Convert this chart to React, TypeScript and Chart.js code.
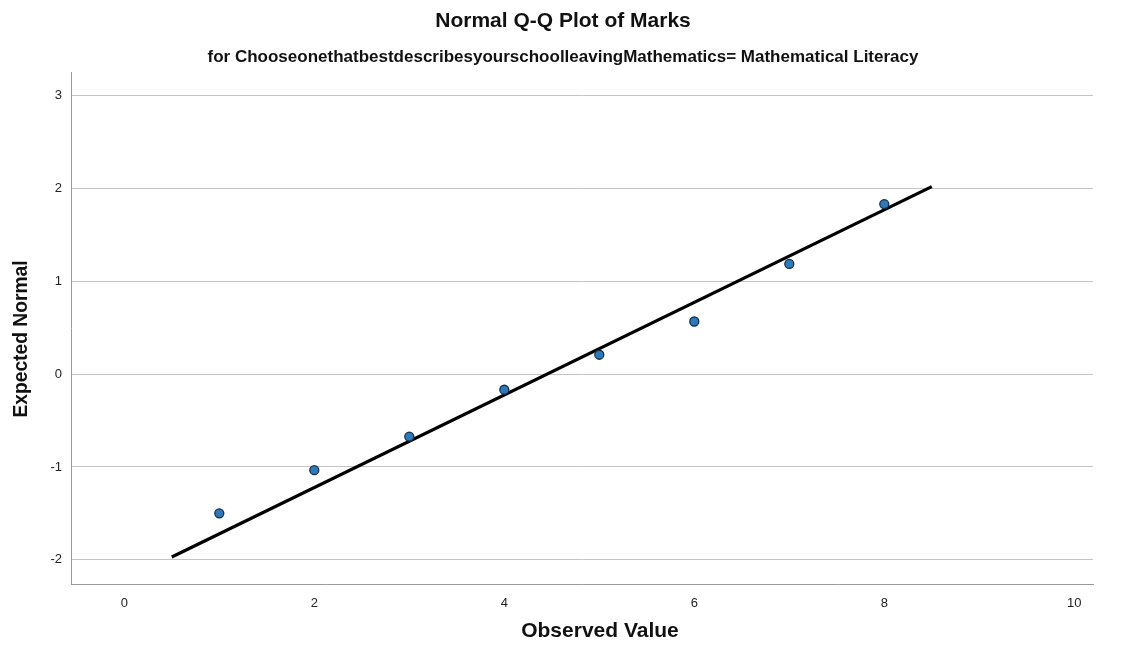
import React, { useEffect, useRef } from "react";
import { Chart, registerables } from "chart.js";

Chart.register(...registerables);

const observedValues = [1, 2, 3, 4, 5, 6, 7, 8];
const expectedNormal = [-1.5, -1.035, -0.673, -0.168, 0.209, 0.567, 1.187, 1.832];
const fitLineX = [0.5, 8.5];
const fitLineY = [-1.97, 2.02];
const xTickValues = [0, 2, 4, 6, 8, 10];
const yTickValues = [-2, -1, 0, 1, 2, 3];

const titleText = "Normal Q-Q Plot of Marks";
const subtitleText = "for ChooseonethatbestdescribesyourschoolleavingMathematics= Mathematical Literacy";
const xAxisTitle = "Observed Value";
const yAxisTitle = "Expected Normal";

const FONT = "'Liberation Sans', Arial, sans-serif";

const textPlugin = {
  id: "spssText",
  afterDraw(chart: any) {
    const ctx = chart.ctx as CanvasRenderingContext2D;
    ctx.save();
    ctx.fillStyle = "#111";
    ctx.textAlign = "center";
    ctx.textBaseline = "middle";
    ctx.font = `bold 21px ${FONT}`;
    ctx.fillText(titleText, 563, 21, 260);
    ctx.font = `bold 17px ${FONT}`;
    ctx.fillText(subtitleText, 563, 57, 747);
    ctx.font = `bold 21px ${FONT}`;
    ctx.fillText(xAxisTitle, 600, 631, 164);
    ctx.font = `bold 19.5px ${FONT}`;
    ctx.translate(22, 339);
    ctx.rotate(-Math.PI / 2);
    ctx.fillText(yAxisTitle, 0, 0, 157);
    ctx.restore();
  },
};

export default function App() {
  const ref = useRef<HTMLCanvasElement | null>(null);

  useEffect(() => {
    if (!ref.current) return;
    const chart = new Chart(ref.current, {
      type: "scatter",
      data: {
        datasets: [
          {
            type: "scatter",
            label: "Observed",
            data: observedValues.map((x, i) => ({ x, y: expectedNormal[i] })),
            backgroundColor: "#2f79b8",
            borderColor: "#13314f",
            borderWidth: 1.3,
            pointRadius: 4.5,
          },
          {
            type: "line",
            label: "Fit",
            data: fitLineX.map((x, i) => ({ x, y: fitLineY[i] })),
            borderColor: "#000",
            borderWidth: 3.2,
            pointRadius: 0,
            fill: false,
          },
        ],
      } as any,
      options: {
        animation: false,
        responsive: false,
        devicePixelRatio: 1,
        layout: { padding: { left: 0, right: 29, top: 72, bottom: 0 } },
        plugins: {
          legend: { display: false },
          title: { display: false },
          tooltip: { enabled: false },
        },
        scales: {
          x: {
            type: "linear",
            min: -0.561,
            max: 10.197,
            afterBuildTicks: (s: any) => {
              s.ticks = xTickValues.map((v) => ({ value: v }));
            },
            afterFit: (s: any) => {
              s.height = 68;
            },
            grid: { display: false, drawTicks: false },
            border: { display: true, color: "#9a9a9a", width: 1 },
            ticks: {
              padding: 12,
              color: "#222",
              font: { size: 13, family: FONT },
              maxRotation: 0,
            },
          },
          y: {
            type: "linear",
            min: -2.261,
            max: 3.255,
            afterBuildTicks: (s: any) => {
              s.ticks = yTickValues.map((v) => ({ value: v }));
            },
            afterFit: (s: any) => {
              s.width = 71;
            },
            grid: { display: true, color: "#c4c4c4", lineWidth: 1, drawTicks: false },
            border: { display: true, color: "#9a9a9a", width: 1 },
            ticks: {
              padding: 9,
              color: "#222",
              font: { size: 13, family: FONT },
            },
          },
        },
      } as any,
      plugins: [textPlugin],
    });
    return () => chart.destroy();
  }, []);

  return (
    <div style={{ position: "absolute", left: 0, top: 0, width: 1122, height: 652, background: "#fff" }}>
      <canvas ref={ref} width={1122} height={652} style={{ display: "block" }} />
    </div>
  );
}
